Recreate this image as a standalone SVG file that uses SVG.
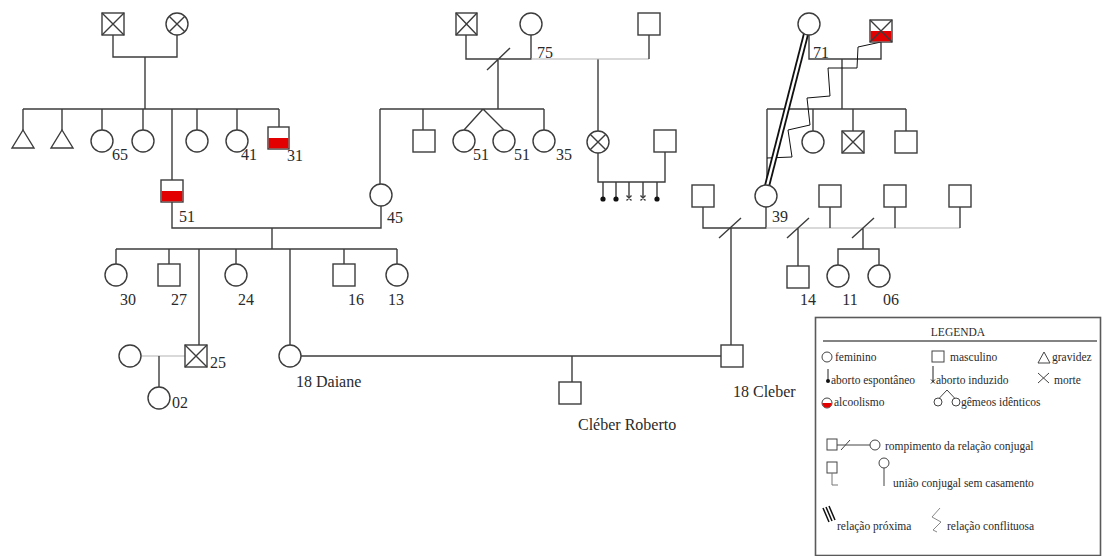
<svg xmlns="http://www.w3.org/2000/svg" width="1104" height="556" viewBox="0 0 1104 556">
<defs>
<style>
.ln{stroke:#3c3c3c;stroke-width:1.4;fill:none}
.sh{stroke:#3c3c3c;stroke-width:1.4;fill:#fff}
.lt{stroke:#b4b4b4;stroke-width:1.2;fill:none}
.red{fill:#e30000;stroke:none}
.t{font-family:"Liberation Serif",serif;font-size:16px;fill:#2a2a2a}
.lg{font-family:"Liberation Serif",serif;font-size:11.5px;fill:#2a2a2a}
.zz{stroke:#111;stroke-width:1;fill:none}
</style>
</defs>
<rect width="1104" height="556" fill="#fff"/>

<g id="connectors">
<path class="ln" d="M113 35V57H177V35M145 57V109M23 109H279M23 109V130M62 109V130M102 109V130M143 109V130M172 109V180M197 109V130M237 109V130M279 109V127"/>
<path class="ln" d="M172 202V228H381V206M272 228V249"/>
<path class="ln" d="M466 35V59H531V35M487 70L510 48M498 59V109M598 59V131"/>
<path class="lt" d="M531 59H649"/>
<path class="ln" d="M649 35V59"/>
<path class="ln" d="M380 109H544M380 109V184M423 109V130M483 109L464 130M483 109L504 130M544 109V130"/>
<path class="ln" d="M598 153V182H665V152M603 182V199M616 182V199M629 182V197M643 182V197M657 182V199"/>
<path class="ln" d="M116 249H397M116 249V264M169 249V264M199 249V345M236 249V264M290 249V345M344 249V264M397 249V264"/>
<path class="lt" d="M141 356H185"/>
<path class="ln" d="M159 356V387"/>
<path class="ln" d="M301 356H721M572 356V382"/>
<path class="ln" d="M809 35V59H881V42M842 59V109M767 109H906M767 109V185M813 109V131M853 109V131M906 109V131"/>
<path class="ln" d="M703 207V228H766V207"/>
<path class="lt" d="M766 228H960"/>
<path class="ln" d="M830 207V228M895 207V228M960 207V228M719 238L741 218M787 238L809 218M852 238L874 218M731 228V345M798 228V266M863 228V249M838 265V249H879V265"/>
<polyline class="zz" points="881,42 858,47 857,68 828,68 830,96 807,98 810,125 788,130 792,157 767,158"/>
<path d="M806 34L767 186" stroke="#111" stroke-width="6"/>
<path d="M806 34L767 186" stroke="#fff" stroke-width="2.4"/>
</g>

<g id="gen1-left-father"><rect class="sh" x="102" y="13" width="22" height="22"/><path class="ln" d="M102 13L124 35M124 13L102 35"/></g>
<g id="gen1-left-mother"><circle class="sh" cx="177" cy="24" r="11"/><path class="ln" d="M169.2 16.2L184.8 31.8M184.8 16.2L169.2 31.8"/></g>
<g id="preg1"><path class="sh" d="M23 130L34 148H12Z"/></g>
<g id="preg2"><path class="sh" d="M62 130L73 148H51Z"/></g>
<g id="aunt65"><circle class="sh" cx="102" cy="141" r="11"/><text class="t" x="112" y="160">65</text></g>
<g id="aunt2"><circle class="sh" cx="143" cy="141" r="11"/></g>
<g id="aunt3"><circle class="sh" cx="197" cy="141" r="11"/></g>
<g id="aunt41"><circle class="sh" cx="237" cy="141" r="11"/><text class="t" x="241" y="160">41</text></g>
<g id="uncle31"><rect class="sh" x="268" y="127" width="21" height="22"/><rect class="red" x="268.7" y="138" width="19.6" height="10.3"/><text class="t" x="287" y="161">31</text></g>
<g id="father51"><rect class="sh" x="161" y="180" width="22" height="22"/><rect class="red" x="161.7" y="191" width="20.6" height="10.3"/><text class="t" x="179" y="222">51</text></g>

<g id="gen1-mid-father"><rect class="sh" x="456" y="13" width="21" height="22"/><path class="ln" d="M456 13L477 35M477 13L456 35"/></g>
<g id="gen1-mid-mother"><circle class="sh" cx="531" cy="24" r="11"/><text class="t" x="537" y="58">75</text></g>
<g id="gen1-mid-partner"><rect class="sh" x="638" y="13" width="22" height="22"/></g>
<g id="mid-son"><rect class="sh" x="413" y="130" width="22" height="22"/></g>
<g id="twin1"><circle class="sh" cx="464" cy="141" r="11"/><text class="t" x="473" y="160">51</text></g>
<g id="twin2"><circle class="sh" cx="504" cy="141" r="11"/><text class="t" x="514" y="160">51</text></g>
<g id="aunt35"><circle class="sh" cx="544" cy="141" r="11"/><text class="t" x="556" y="160">35</text></g>
<g id="halfsister"><circle class="sh" cx="598" cy="142" r="11"/><path class="ln" d="M590.2 134.2L605.8 149.8M605.8 134.2L590.2 149.8"/></g>
<g id="halfsister-partner"><rect class="sh" x="654" y="130" width="22" height="22"/></g>
<g id="abortions">
<circle cx="603" cy="199" r="2.6" fill="#111"/><circle cx="616" cy="199" r="2.6" fill="#111"/><circle cx="657" cy="199" r="2.6" fill="#111"/>
<path class="ln" d="M626.5 195.5L631.5 200.5M631.5 195.5L626.5 200.5M640.5 195.5L645.5 200.5M645.5 195.5L640.5 200.5" stroke-width="1"/>
</g>
<g id="mother45"><circle class="sh" cx="381" cy="195" r="11"/><text class="t" x="387" y="223">45</text></g>

<g id="sib30"><circle class="sh" cx="116" cy="275" r="11"/><text class="t" x="128" y="305" text-anchor="middle">30</text></g>
<g id="sib27"><rect class="sh" x="158" y="264" width="22" height="22"/><text class="t" x="179" y="305" text-anchor="middle">27</text></g>
<g id="sib25"><rect class="sh" x="185" y="345" width="22" height="22"/><path class="ln" d="M185 345L207 367M207 345L185 367"/><text class="t" x="210" y="368">25</text></g>
<g id="sib25-partner"><circle class="sh" cx="130" cy="356" r="11"/></g>
<g id="niece02"><circle class="sh" cx="159" cy="398" r="11"/><text class="t" x="172" y="408">02</text></g>
<g id="sib24"><circle class="sh" cx="236" cy="275" r="11"/><text class="t" x="246" y="305" text-anchor="middle">24</text></g>
<g id="daiane"><circle class="sh" cx="290" cy="356" r="11"/><text class="t" x="296" y="387">18 Daiane</text></g>
<g id="sib16"><rect class="sh" x="333" y="264" width="22" height="22"/><text class="t" x="356" y="305" text-anchor="middle">16</text></g>
<g id="sib13"><circle class="sh" cx="397" cy="275" r="11"/><text class="t" x="396" y="305" text-anchor="middle">13</text></g>
<g id="cleber-roberto"><rect class="sh" x="559" y="382" width="22" height="22"/><text class="t" x="578" y="430">Cléber Roberto</text></g>
<g id="cleber"><rect class="sh" x="721" y="345" width="22" height="22"/><text class="t" x="733" y="397">18 Cleber</text></g>

<g id="gm71"><circle class="sh" cx="809" cy="24" r="11"/><text class="t" x="813" y="58">71</text></g>
<g id="gf-right"><rect class="sh" x="870" y="20" width="22" height="22"/><rect class="red" x="870.7" y="31" width="20.6" height="10.3"/><path class="ln" d="M870 20L892 42M892 20L870 42"/></g>
<g id="r-aunt"><circle class="sh" cx="813" cy="142" r="11"/></g>
<g id="r-uncle-dead"><rect class="sh" x="842" y="131" width="22" height="22"/><path class="ln" d="M842 131L864 153M864 131L842 153"/></g>
<g id="r-uncle"><rect class="sh" x="895" y="131" width="22" height="22"/></g>
<g id="mother39"><circle class="sh" cx="766" cy="196" r="11"/><text class="t" x="772" y="222">39</text></g>
<g id="p39-1"><rect class="sh" x="692" y="185" width="22" height="22"/></g>
<g id="p39-2"><rect class="sh" x="819" y="185" width="22" height="22"/></g>
<g id="p39-3"><rect class="sh" x="884" y="185" width="22" height="22"/></g>
<g id="p39-4"><rect class="sh" x="949" y="185" width="22" height="22"/></g>
<g id="half14"><rect class="sh" x="787" y="266" width="22" height="22"/><text class="t" x="808" y="305" text-anchor="middle">14</text></g>
<g id="half11"><circle class="sh" cx="838" cy="276" r="11"/><text class="t" x="850" y="305" text-anchor="middle">11</text></g>
<g id="half06"><circle class="sh" cx="879" cy="276" r="11"/><text class="t" x="891" y="305" text-anchor="middle">06</text></g>

<g id="legend">
<rect x="815.5" y="317.5" width="285" height="238" fill="#fff" stroke="#5a5a5a" stroke-width="1.6"/>
<text class="lg" x="958" y="336" text-anchor="middle" font-size="12.5">LEGENDA</text>
<path d="M823 341H1097" stroke="#5a5a5a" stroke-width="1.4"/>
<circle cx="827" cy="357" r="5" fill="#fff" stroke="#444" stroke-width="1"/>
<text class="lg" x="835" y="361">feminino</text>
<rect x="932" y="351" width="12" height="11" fill="#fff" stroke="#444" stroke-width="1"/>
<text class="lg" x="950" y="361">masculino</text>
<path d="M1038 363L1044 352L1050 363Z" fill="#fff" stroke="#444" stroke-width="1"/>
<text class="lg" x="1052" y="361">gravidez</text>
<path d="M828 369V381" stroke="#222" stroke-width="1"/><circle cx="828" cy="381" r="2" fill="#111"/>
<text class="lg" x="831" y="384">aborto espontâneo</text>
<path d="M933 366V382M931 379.5L935 383.5M935 379.5L931 383.5" stroke="#222" stroke-width="1"/>
<text class="lg" x="936" y="384">aborto induzido</text>
<path d="M1038 373L1049 383M1049 373L1038 383" stroke="#444" stroke-width="1"/>
<text class="lg" x="1054" y="384">morte</text>
<circle cx="827" cy="403" r="5" fill="#fff" stroke="#444" stroke-width="1"/>
<path d="M822.3 403A4.7 4.7 0 0 0 831.7 403Z" fill="#e30000"/>
<text class="lg" x="834" y="406">alcoolismo</text>
<path d="M947 390L939 398.5M947 390L955 398.5" stroke="#444" stroke-width="1" fill="none"/>
<circle cx="938" cy="402" r="4" fill="#fff" stroke="#444" stroke-width="1"/>
<circle cx="956" cy="402" r="4" fill="#fff" stroke="#444" stroke-width="1"/>
<text class="lg" x="961" y="406">gêmeos idênticos</text>
<rect x="827" y="439" width="10" height="11" fill="#fff" stroke="#444" stroke-width="1"/>
<path d="M837 445H870M841 450L850 440" stroke="#444" stroke-width="1"/>
<circle cx="875" cy="445" r="5" fill="#fff" stroke="#444" stroke-width="1"/>
<text class="lg" x="885" y="450">rompimento da relação conjugal</text>
<rect x="827" y="462" width="10" height="11" fill="#fff" stroke="#444" stroke-width="1"/>
<path d="M832 473V485H838" stroke="#777" stroke-width="1" fill="none"/>
<circle cx="884" cy="463" r="5" fill="#fff" stroke="#444" stroke-width="1"/>
<path d="M884 468V486" stroke="#444" stroke-width="1"/>
<text class="lg" x="893" y="487">união conjugal sem casamento</text>
<path d="M823 508L829 522M826 507L832 521M829 506L835 520" stroke="#111" stroke-width="1.5"/>
<text class="lg" x="837" y="530">relação próxima</text>
<polyline points="940,508 932,517 941,522 933,530 937,532" stroke="#888" stroke-width="1" fill="none"/>
<text class="lg" x="947" y="530">relação conflituosa</text>
</g>
</svg>
